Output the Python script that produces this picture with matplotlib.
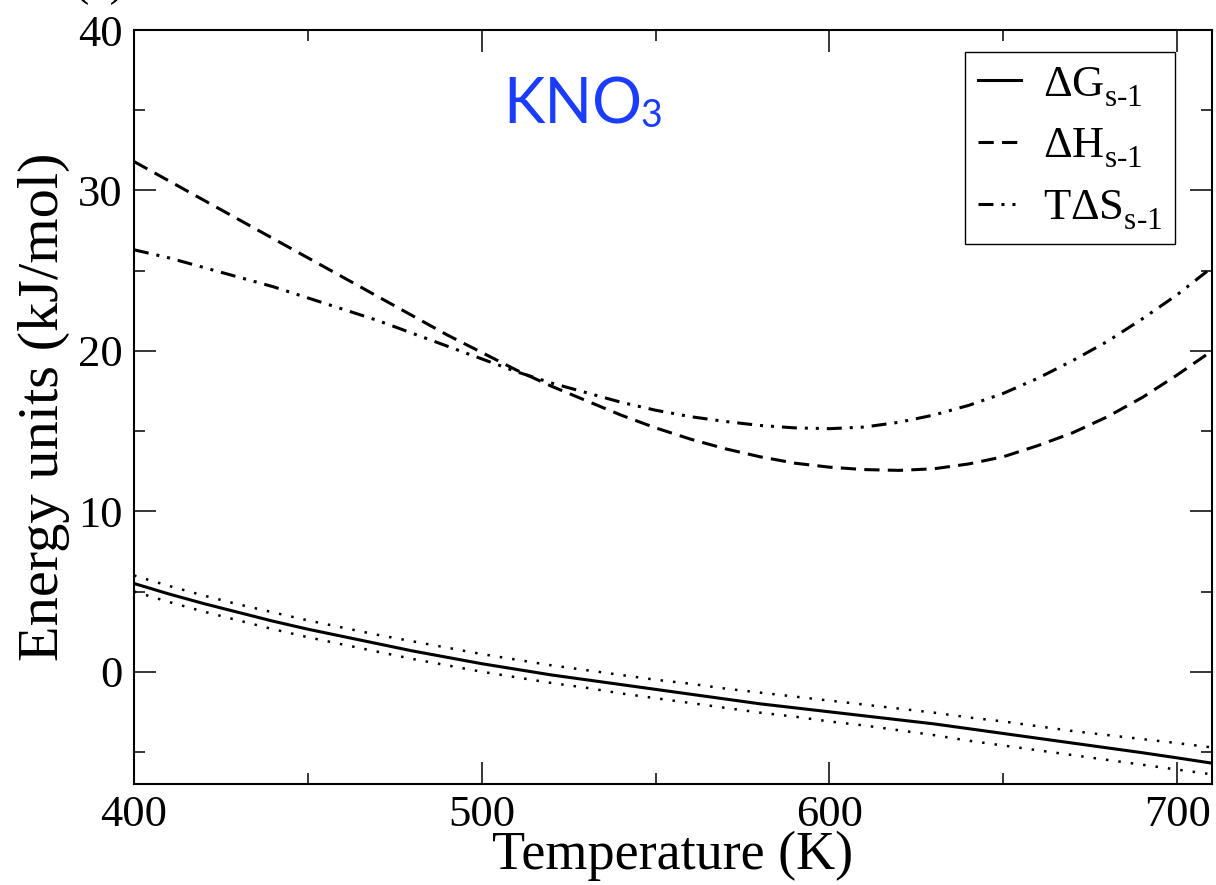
import numpy as np
import matplotlib
matplotlib.use("Agg")
from matplotlib import pyplot as plt
import matplotlib._mathtext as mathtext_internals

plt.rcParams['font.family'] = ['Liberation Serif', 'DejaVu Serif']
plt.rcParams['mathtext.fontset'] = 'custom'
plt.rcParams['mathtext.rm'] = 'Liberation Serif'
plt.rcParams['mathtext.it'] = 'Liberation Serif:italic'
# push subscripts a little lower than the mathtext default
mathtext_internals.FontConstantsBase.sub1 = 0.5

# temperature grid (K)
temps = [400, 410, 420, 430, 440, 450, 460, 470, 480, 490, 500,
         510, 520, 530, 540, 550, 560, 570, 580, 590, 600,
         610, 620, 630, 640, 650, 660, 670, 680, 690, 700, 710]

# energies in kJ/mol
dG = [5.5, 4.85, 4.25, 3.7, 3.15, 2.65, 2.2, 1.75, 1.3, 0.9, 0.5,
      0.15, -0.2, -0.5, -0.8, -1.1, -1.4, -1.7, -2.0, -2.25, -2.5,
      -2.75, -3.0, -3.25, -3.55, -3.85, -4.15, -4.45, -4.75, -5.05, -5.37, -5.7]
dG_hi = [6.0, 5.35, 4.75, 4.2, 3.7, 3.2, 2.75, 2.3, 1.9, 1.5, 1.1,
         0.75, 0.4, 0.1, -0.2, -0.5, -0.75, -1.05, -1.3, -1.55, -1.8,
         -2.05, -2.3, -2.55, -2.85, -3.1, -3.4, -3.7, -3.95, -4.2, -4.45, -4.72]
dG_lo = [5.0, 4.35, 3.75, 3.2, 2.65, 2.15, 1.7, 1.25, 0.8, 0.4, 0.0,
         -0.35, -0.7, -1.0, -1.35, -1.65, -1.95, -2.25, -2.55, -2.8, -3.1,
         -3.35, -3.65, -3.95, -4.3, -4.6, -4.9, -5.2, -5.5, -5.8, -6.1, -6.4]
dH = [31.8, 30.6, 29.4, 28.2, 27.0, 25.8, 24.6, 23.4, 22.2, 21.0, 19.9,
      18.8, 17.8, 16.9, 16.0, 15.2, 14.5, 13.9, 13.4, 13.0, 12.75,
      12.6, 12.55, 12.65, 12.95, 13.4, 14.1, 14.9, 15.9, 17.1, 18.5, 20.0]
TdS = [26.3, 25.8, 25.2, 24.6, 24.0, 23.3, 22.6, 21.9, 21.1, 20.3, 19.5,
       18.7, 18.0, 17.4, 16.8, 16.3, 15.9, 15.6, 15.35, 15.2, 15.15,
       15.25, 15.55, 16.0, 16.6, 17.35, 18.3, 19.4, 20.6, 22.0, 23.5, 25.2]

fig = plt.figure(figsize=(12.16, 8.85), dpi=100)
ax = fig.add_axes([0.1102, 0.1141, 0.8865, 0.852])

lw = 2.2
ax.plot(temps, dG, '-', color='black', lw=lw,
        label=r'$\Delta\mathrm{G}_{\mathrm{s}\text{-}\mathrm{1}}$')
ax.plot(temps, dH, color='black', lw=lw, linestyle=(0, (5, 2.7)),
        label=r'$\Delta\mathrm{H}_{\mathrm{s}\text{-}\mathrm{1}}$')
ax.plot(temps, TdS, color='black', lw=lw, linestyle=(0, (4.9, 2.6, 1, 2.6, 1, 2.6)),
        label=r'$\mathrm{T}\Delta\mathrm{S}_{\mathrm{s}\text{-}\mathrm{1}}$')
ax.plot(temps, dG_hi, color='black', lw=1.8, linestyle=(0, (1, 4)))
ax.plot(temps, dG_lo, color='black', lw=1.8, linestyle=(0, (1, 4)))

ax.set_xlim(400, 710)
ax.set_ylim(-7, 40)
ax.set_xticks([400, 500, 600, 700])
ax.set_xticks([450, 550, 650], minor=True)
ax.set_yticks([0, 10, 20, 30, 40])
ax.set_yticks([-5, 5, 15, 25, 35], minor=True)
ax.tick_params(which='both', direction='in', top=True, right=True, width=1.1,
               labelsize=32, pad=8)
ax.tick_params(which='major', length=15.8)
ax.tick_params(which='minor', length=7.9)
for sp in ax.spines.values():
    sp.set_linewidth(1.5)

ax.set_xlabel('Temperature (K)', fontsize=39, labelpad=-3)
ax.set_ylabel('Energy units (kJ/mol)', fontsize=42, labelpad=6)

leg = ax.legend(loc='upper right', bbox_to_anchor=(0.9657, 0.9708), borderaxespad=0,
                fontsize=32, handlelength=0.98, handletextpad=0.5, labelspacing=0.42,
                borderpad=0.28, fancybox=False, edgecolor='black', framealpha=1)
leg.get_frame().set_linewidth(1.0)

# compound label with a lowered subscript
kno = ax.text(400 + (503 - 134) / 1078 * 310, 40 - (123 - 30) / 754 * 47, 'KNO',
              fontsize=45, color='#1a3cff', family=['Lato', 'DejaVu Sans'],
              ha='left', va='baseline')
ax.annotate('3', xy=(1, 0), xycoords=kno, xytext=(-1, 4.7), textcoords='offset points',
            fontsize=27, color='#1a3cff', family=['Lato', 'DejaVu Sans'],
            ha='left', va='baseline')

# panel tag, mostly above the page edge
fig.text(0.082, 1 + 5 / 885, '(a)', fontsize=33, ha='center', va='baseline')

fig.savefig('out.png', dpi=100, facecolor='white')
